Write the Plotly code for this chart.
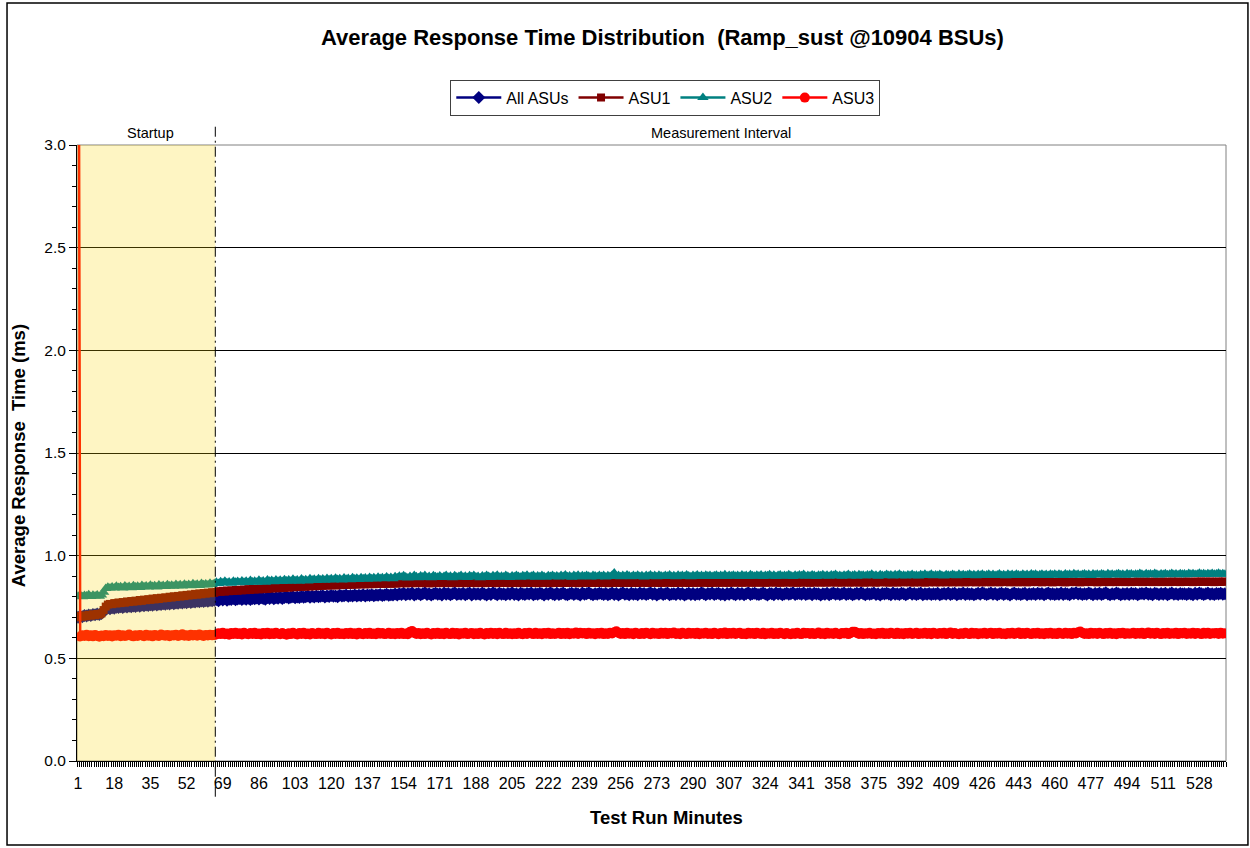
import plotly.graph_objects as go

# ---------------- data (ms per minute) ----------------
all_asus = [
    0.700, 0.705, 0.702, 0.708, 0.706, 0.711, 0.709, 0.714, 0.712, 0.716, 0.713, 0.718, 0.728, 0.738, 0.745, 0.742,
    0.746, 0.744, 0.749, 0.747, 0.751, 0.748, 0.752, 0.750, 0.754, 0.751,
    0.755, 0.753, 0.757, 0.754, 0.758, 0.756, 0.760, 0.757, 0.761, 0.759,
    0.763, 0.760, 0.764, 0.762, 0.766, 0.763, 0.767, 0.765, 0.769, 0.766,
    0.770, 0.768, 0.772, 0.769, 0.773, 0.771, 0.775, 0.772, 0.776, 0.774,
    0.778, 0.775, 0.779, 0.777, 0.781, 0.778, 0.782, 0.780, 0.783,
    0.786, 0.781, 0.789, 0.784, 0.790, 0.783, 0.788, 0.786, 0.791, 0.785,
    0.789, 0.792, 0.786, 0.791, 0.788, 0.793, 0.787, 0.792, 0.790, 0.794,
    0.789, 0.795, 0.791, 0.788, 0.796, 0.792, 0.797, 0.790, 0.795, 0.793,
    0.798, 0.792, 0.796, 0.799, 0.794, 0.797, 0.800, 0.795, 0.799, 0.796,
    0.801, 0.797, 0.800, 0.803, 0.798, 0.802, 0.799, 0.804, 0.800, 0.802,
    0.805, 0.799, 0.803, 0.801, 0.806, 0.802, 0.804, 0.800, 0.807, 0.803,
    0.805, 0.808, 0.802, 0.806, 0.804, 0.809, 0.803, 0.807, 0.805, 0.810,
    0.804, 0.808, 0.806, 0.810, 0.805, 0.809, 0.807, 0.811, 0.806, 0.809,
    0.812, 0.807, 0.810, 0.808, 0.813,
    0.809, 0.815, 0.811, 0.817, 0.810, 0.814, 0.812, 0.818, 0.809, 0.813,
    0.816, 0.810, 0.814, 0.819, 0.811, 0.815, 0.808, 0.813, 0.817, 0.812,
    0.815, 0.809, 0.818, 0.812, 0.816, 0.810, 0.814, 0.819, 0.811, 0.815,
    0.812, 0.817, 0.810, 0.814, 0.818, 0.809, 0.816, 0.812, 0.815, 0.811,
    0.818, 0.813, 0.809, 0.816, 0.811, 0.819, 0.814, 0.810, 0.817, 0.812,
    0.814, 0.810, 0.816, 0.812, 0.819, 0.811, 0.815, 0.809, 0.817, 0.813,
    0.811, 0.816, 0.813, 0.818, 0.810, 0.815, 0.812, 0.817, 0.814, 0.809,
    0.816, 0.812, 0.819, 0.813, 0.810, 0.817, 0.811, 0.815, 0.818, 0.812,
    0.810, 0.814, 0.817, 0.811, 0.816, 0.813, 0.809, 0.818, 0.812, 0.815,
    0.819, 0.813, 0.810, 0.815, 0.812, 0.817, 0.814, 0.811, 0.816, 0.810,
    0.813, 0.818, 0.811, 0.816, 0.809, 0.814, 0.819, 0.812, 0.815, 0.810,
    0.817, 0.812, 0.815, 0.810, 0.818, 0.813, 0.816, 0.811, 0.814, 0.819,
    0.812, 0.816, 0.809, 0.814, 0.817, 0.811, 0.815, 0.818, 0.810, 0.813,
    0.815, 0.811, 0.818, 0.812, 0.816, 0.809, 0.813, 0.817, 0.811, 0.816,
    0.810, 0.815, 0.812, 0.819, 0.814, 0.810, 0.816, 0.813, 0.818, 0.811,
    0.814, 0.817, 0.811, 0.815, 0.809, 0.816, 0.812, 0.818, 0.813, 0.810,
    0.817, 0.812, 0.816, 0.810, 0.815, 0.819, 0.811, 0.814, 0.817, 0.812,
    0.811, 0.815, 0.818, 0.813, 0.809, 0.816, 0.814, 0.810, 0.818, 0.813,
    0.816, 0.810, 0.813, 0.817, 0.812, 0.815, 0.819, 0.811, 0.814, 0.816,
    0.812, 0.818, 0.811, 0.814, 0.816, 0.810, 0.817, 0.813, 0.815, 0.809,
    0.815, 0.812, 0.817, 0.810, 0.814, 0.818, 0.812, 0.816, 0.811, 0.815,
    0.818, 0.811, 0.814, 0.816, 0.810, 0.813, 0.817, 0.812, 0.819, 0.814,
    0.810, 0.816, 0.812, 0.815, 0.818, 0.811, 0.814, 0.809, 0.816, 0.813,
    0.817, 0.813, 0.810, 0.818, 0.812, 0.815, 0.811, 0.817, 0.814, 0.810,
    0.814, 0.819, 0.812, 0.816, 0.811, 0.814, 0.818, 0.810, 0.815, 0.812,
    0.816, 0.811, 0.815, 0.812, 0.817, 0.810, 0.813, 0.816, 0.812, 0.818,
    0.811, 0.814, 0.817, 0.810, 0.815, 0.813, 0.818, 0.811, 0.816, 0.812,
    0.815, 0.810, 0.813, 0.817, 0.812, 0.819, 0.814, 0.811, 0.815, 0.818,
    0.812, 0.816, 0.810, 0.814, 0.817, 0.811, 0.816, 0.813, 0.809, 0.815,
    0.818, 0.812, 0.815, 0.811, 0.814, 0.817, 0.810, 0.815, 0.812, 0.816,
    0.811, 0.817, 0.813, 0.816, 0.810, 0.814, 0.818, 0.812, 0.815, 0.811,
    0.815, 0.812, 0.818, 0.811, 0.816, 0.813, 0.810, 0.817, 0.814, 0.819,
    0.813, 0.816, 0.811, 0.815, 0.812, 0.818, 0.814, 0.810, 0.816, 0.812,
    0.817, 0.811, 0.814, 0.819, 0.813, 0.810, 0.815, 0.812, 0.818, 0.814,
    0.810, 0.815, 0.812, 0.816, 0.811, 0.817, 0.813, 0.816, 0.810, 0.814,
    0.816, 0.813, 0.818, 0.812, 0.815, 0.810, 0.817, 0.814, 0.811, 0.816,
    0.812, 0.817, 0.810, 0.814, 0.818, 0.812, 0.815, 0.811, 0.816, 0.813,
    0.815, 0.811, 0.816, 0.813, 0.810, 0.817, 0.812, 0.818, 0.814, 0.811,
    0.814, 0.818, 0.812, 0.815, 0.811, 0.816, 0.813, 0.817, 0.812, 0.814,
]

asu1 = [
    0.700, 0.706, 0.703, 0.709, 0.705, 0.712, 0.708, 0.714, 0.710, 0.716, 0.713, 0.719, 0.735, 0.752, 0.762, 0.765,
    0.764, 0.769, 0.767, 0.772, 0.769, 0.774, 0.771, 0.777, 0.774, 0.779,
    0.776, 0.781, 0.778, 0.784, 0.780, 0.786, 0.783, 0.788, 0.785, 0.791,
    0.787, 0.793, 0.789, 0.795, 0.792, 0.797, 0.794, 0.800, 0.796, 0.802,
    0.799, 0.804, 0.801, 0.807, 0.803, 0.809, 0.806, 0.811, 0.808, 0.814,
    0.810, 0.816, 0.812, 0.818, 0.815, 0.820, 0.817, 0.822, 0.819,
    0.823, 0.827, 0.824, 0.829, 0.825, 0.830, 0.827, 0.831, 0.828, 0.833,
    0.829, 0.834, 0.831, 0.835, 0.832, 0.837, 0.833, 0.838, 0.835, 0.839,
    0.836, 0.840, 0.837, 0.842, 0.838, 0.843, 0.840, 0.844, 0.841, 0.845,
    0.842, 0.846, 0.843, 0.848, 0.844, 0.849, 0.846, 0.850, 0.847, 0.851,
    0.848, 0.852, 0.849, 0.853, 0.850, 0.854, 0.851, 0.855, 0.852, 0.856,
    0.853, 0.857, 0.854, 0.857, 0.855, 0.858, 0.855, 0.859, 0.856, 0.860,
    0.857, 0.860, 0.858, 0.861, 0.858, 0.862, 0.859, 0.862, 0.860, 0.863,
    0.860, 0.863, 0.861, 0.864, 0.861, 0.864, 0.862, 0.865, 0.862, 0.865,
    0.863, 0.866, 0.863, 0.866, 0.864,
    0.865, 0.867, 0.866, 0.868, 0.865, 0.867, 0.869, 0.866, 0.868, 0.866,
    0.867, 0.869, 0.866, 0.868, 0.867, 0.865, 0.868, 0.866, 0.869, 0.867,
    0.866, 0.868, 0.870, 0.867, 0.866, 0.869, 0.867, 0.868, 0.866, 0.868,
    0.869, 0.867, 0.866, 0.868, 0.870, 0.867, 0.869, 0.866, 0.868, 0.867,
    0.868, 0.866, 0.869, 0.867, 0.868, 0.870, 0.867, 0.866, 0.869, 0.868,
    0.867, 0.869, 0.868, 0.866, 0.868, 0.867, 0.870, 0.868, 0.866, 0.869,
    0.868, 0.867, 0.869, 0.870, 0.867, 0.868, 0.866, 0.869, 0.868, 0.867,
    0.869, 0.868, 0.866, 0.868, 0.870, 0.867, 0.869, 0.868, 0.867, 0.870,
    0.867, 0.869, 0.868, 0.870, 0.868, 0.866, 0.869, 0.867, 0.870, 0.868,
    0.868, 0.870, 0.867, 0.869, 0.868, 0.870, 0.867, 0.869, 0.868, 0.866,
    0.869, 0.867, 0.870, 0.868, 0.869, 0.867, 0.868, 0.870, 0.869, 0.867,
    0.868, 0.870, 0.869, 0.867, 0.869, 0.871, 0.868, 0.869, 0.867, 0.870,
    0.869, 0.868, 0.870, 0.868, 0.867, 0.869, 0.871, 0.868, 0.870, 0.869,
    0.867, 0.870, 0.868, 0.869, 0.871, 0.868, 0.869, 0.867, 0.870, 0.868,
    0.870, 0.868, 0.869, 0.871, 0.868, 0.870, 0.869, 0.867, 0.869, 0.871,
    0.868, 0.869, 0.871, 0.868, 0.870, 0.869, 0.868, 0.871, 0.869, 0.870,
    0.869, 0.871, 0.868, 0.870, 0.869, 0.871, 0.870, 0.868, 0.870, 0.869,
    0.871, 0.869, 0.870, 0.868, 0.871, 0.869, 0.870, 0.872, 0.869, 0.870,
    0.868, 0.870, 0.872, 0.869, 0.870, 0.871, 0.869, 0.870, 0.868, 0.871,
    0.870, 0.869, 0.871, 0.870, 0.868, 0.871, 0.869, 0.872, 0.870, 0.869,
    0.871, 0.870, 0.869, 0.871, 0.870, 0.872, 0.869, 0.870, 0.871, 0.869,
    0.870, 0.872, 0.870, 0.869, 0.871, 0.870, 0.872, 0.869, 0.871, 0.870,
    0.869, 0.871, 0.870, 0.872, 0.870, 0.869, 0.871, 0.870, 0.872, 0.871,
    0.870, 0.869, 0.872, 0.870, 0.871, 0.869, 0.872, 0.871, 0.870, 0.872,
    0.871, 0.870, 0.872, 0.869, 0.871, 0.872, 0.870, 0.871, 0.869, 0.872,
    0.870, 0.872, 0.871, 0.870, 0.872, 0.870, 0.871, 0.873, 0.870, 0.871,
    0.872, 0.870, 0.871, 0.873, 0.870, 0.872, 0.871, 0.870, 0.872, 0.871,
    0.871, 0.873, 0.870, 0.872, 0.871, 0.870, 0.873, 0.871, 0.872, 0.870,
    0.872, 0.871, 0.873, 0.870, 0.872, 0.871, 0.873, 0.872, 0.870, 0.872,
    0.871, 0.872, 0.870, 0.873, 0.871, 0.872, 0.870, 0.873, 0.871, 0.872,
    0.873, 0.871, 0.872, 0.870, 0.873, 0.872, 0.871, 0.873, 0.870, 0.872,
    0.871, 0.873, 0.872, 0.871, 0.870, 0.873, 0.871, 0.872, 0.874, 0.871,
    0.872, 0.870, 0.873, 0.871, 0.872, 0.874, 0.871, 0.873, 0.872, 0.870,
    0.873, 0.872, 0.871, 0.873, 0.874, 0.871, 0.872, 0.873, 0.871, 0.874,
    0.872, 0.873, 0.871, 0.874, 0.872, 0.871, 0.873, 0.872, 0.874, 0.873,
    0.871, 0.873, 0.874, 0.872, 0.873, 0.871, 0.874, 0.872, 0.873, 0.871,
    0.874, 0.872, 0.873, 0.871, 0.874, 0.873, 0.872, 0.874, 0.871, 0.873,
    0.872, 0.874, 0.873, 0.872, 0.871, 0.874, 0.873, 0.872, 0.874, 0.873,
    0.873, 0.872, 0.874, 0.873, 0.871, 0.873, 0.874, 0.872, 0.873, 0.874,
]

asu2 = [
    0.802, 0.808, 0.800, 0.806, 0.803, 0.810, 0.801, 0.807, 0.804, 0.809, 0.802, 0.808, 0.822, 0.840, 0.846, 0.843,
    0.848, 0.842, 0.851, 0.845, 0.849, 0.843, 0.852, 0.846, 0.850, 0.844,
    0.853, 0.847, 0.851, 0.845, 0.855, 0.849, 0.852, 0.847, 0.856, 0.850,
    0.854, 0.848, 0.857, 0.851, 0.855, 0.850, 0.858, 0.852, 0.856, 0.851,
    0.860, 0.854, 0.858, 0.852, 0.861, 0.855, 0.859, 0.854, 0.863, 0.857,
    0.861, 0.855, 0.864, 0.858, 0.862, 0.857, 0.866, 0.860, 0.864,
    0.870, 0.864, 0.873, 0.867, 0.875, 0.868, 0.872, 0.866, 0.876, 0.870,
    0.874, 0.868, 0.877, 0.871, 0.875, 0.869, 0.879, 0.872, 0.876, 0.870,
    0.880, 0.873, 0.877, 0.871, 0.881, 0.875, 0.879, 0.873, 0.882, 0.876,
    0.880, 0.874, 0.883, 0.877, 0.881, 0.875, 0.885, 0.878, 0.882, 0.876,
    0.886, 0.879, 0.883, 0.877, 0.887, 0.881, 0.885, 0.879, 0.888, 0.882,
    0.886, 0.880, 0.889, 0.883, 0.887, 0.881, 0.890, 0.884, 0.888, 0.882,
    0.891, 0.885, 0.889, 0.883, 0.892, 0.886, 0.890, 0.884, 0.893, 0.887,
    0.891, 0.885, 0.894, 0.888, 0.892, 0.886, 0.895, 0.889, 0.893, 0.887,
    0.896, 0.889, 0.894, 0.888, 0.897,
    0.893, 0.900, 0.895, 0.902, 0.896, 0.891, 0.899, 0.894, 0.903, 0.897,
    0.892, 0.901, 0.896, 0.903, 0.894, 0.899, 0.893, 0.902, 0.897, 0.895,
    0.901, 0.894, 0.898, 0.904, 0.895, 0.900, 0.893, 0.902, 0.896, 0.899,
    0.903, 0.895, 0.900, 0.894, 0.902, 0.897, 0.904, 0.896, 0.899, 0.893,
    0.901, 0.896, 0.903, 0.898, 0.894, 0.902, 0.897, 0.905, 0.895, 0.900,
    0.896, 0.903, 0.899, 0.894, 0.901, 0.897, 0.904, 0.898, 0.895, 0.902,
    0.898, 0.905, 0.896, 0.900, 0.903, 0.895, 0.901, 0.897, 0.904, 0.899,
    0.895, 0.902, 0.898, 0.904, 0.897, 0.901, 0.896, 0.903, 0.899, 0.906,
    0.897, 0.901, 0.895, 0.903, 0.899, 0.905, 0.896, 0.902, 0.898, 0.904,
    0.900, 0.896, 0.904, 0.901, 0.897, 0.904, 0.899, 0.903, 0.896, 0.902,
    0.898, 0.905, 0.915, 0.900, 0.903, 0.897, 0.904, 0.899, 0.906, 0.901,
    0.897, 0.903, 0.899, 0.905, 0.898, 0.902, 0.896, 0.904, 0.900, 0.906,
    0.899, 0.903, 0.897, 0.905, 0.901, 0.898, 0.904, 0.900, 0.906, 0.899,
    0.902, 0.897, 0.905, 0.900, 0.903, 0.898, 0.906, 0.901, 0.897, 0.904,
    0.900, 0.906, 0.899, 0.903, 0.898, 0.905, 0.901, 0.904, 0.899, 0.902,
    0.905, 0.899, 0.903, 0.900, 0.907, 0.898, 0.904, 0.901, 0.905, 0.900,
    0.903, 0.898, 0.906, 0.901, 0.904, 0.899, 0.907, 0.902, 0.900, 0.905,
    0.901, 0.906, 0.899, 0.904, 0.902, 0.907, 0.900, 0.905, 0.898, 0.903,
    0.906, 0.900, 0.904, 0.901, 0.907, 0.902, 0.899, 0.905, 0.901, 0.906,
    0.902, 0.908, 0.900, 0.904, 0.901, 0.906, 0.903, 0.899, 0.905, 0.902,
    0.907, 0.901, 0.905, 0.900, 0.906, 0.903, 0.908, 0.901, 0.904, 0.900,
    0.905, 0.902, 0.908, 0.901, 0.904, 0.906, 0.900, 0.907, 0.903, 0.905,
    0.901, 0.906, 0.903, 0.909, 0.902, 0.905, 0.900, 0.907, 0.904, 0.902,
    0.908, 0.903, 0.906, 0.901, 0.907, 0.904, 0.909, 0.902, 0.905, 0.901,
    0.906, 0.903, 0.908, 0.902, 0.905, 0.901, 0.907, 0.904, 0.909, 0.903,
    0.905, 0.909, 0.902, 0.906, 0.903, 0.908, 0.904, 0.901, 0.907, 0.905,
    0.903, 0.908, 0.905, 0.902, 0.909, 0.904, 0.907, 0.903, 0.906, 0.910,
    0.904, 0.907, 0.902, 0.908, 0.905, 0.910, 0.903, 0.906, 0.909, 0.904,
    0.908, 0.903, 0.906, 0.911, 0.904, 0.907, 0.902, 0.909, 0.905, 0.908,
    0.904, 0.909, 0.906, 0.903, 0.910, 0.905, 0.908, 0.904, 0.911, 0.906,
    0.909, 0.904, 0.907, 0.910, 0.905, 0.908, 0.903, 0.910, 0.906, 0.909,
    0.905, 0.910, 0.907, 0.904, 0.911, 0.906, 0.909, 0.905, 0.912, 0.907,
    0.910, 0.905, 0.908, 0.911, 0.906, 0.909, 0.904, 0.911, 0.907, 0.910,
    0.906, 0.911, 0.908, 0.905, 0.912, 0.907, 0.910, 0.906, 0.909, 0.912,
    0.907, 0.910, 0.905, 0.912, 0.908, 0.911, 0.906, 0.910, 0.908, 0.913,
    0.909, 0.906, 0.912, 0.908, 0.911, 0.907, 0.913, 0.909, 0.906, 0.911,
    0.908, 0.912, 0.907, 0.910, 0.913, 0.908, 0.911, 0.907, 0.912, 0.909,
    0.911, 0.907, 0.913, 0.909, 0.912, 0.908, 0.910, 0.914, 0.909, 0.912,
    0.908, 0.912, 0.910, 0.913, 0.909, 0.911, 0.914, 0.910, 0.912, 0.909,
]

asu3 = [
    5.200,
    0.606, 0.613, 0.609, 0.615, 0.608, 0.612, 0.607, 0.614, 0.610, 0.605,
    0.611, 0.608, 0.614, 0.609, 0.613, 0.606, 0.612, 0.610, 0.615, 0.608,
    0.613, 0.609, 0.611, 0.616, 0.610, 0.607, 0.613, 0.609, 0.614, 0.611,
    0.608, 0.615, 0.610, 0.612, 0.607, 0.614, 0.611, 0.609, 0.616, 0.612,
    0.610, 0.614, 0.608, 0.613, 0.611, 0.615, 0.609, 0.612, 0.617, 0.610,
    0.613, 0.609, 0.615, 0.611, 0.614, 0.610, 0.616, 0.612, 0.609, 0.614,
    0.611, 0.615, 0.612, 0.614,
    0.616, 0.622, 0.618, 0.624, 0.617, 0.621, 0.615, 0.623, 0.619, 0.625,
    0.618, 0.622, 0.616, 0.624, 0.620, 0.617, 0.623, 0.619, 0.625, 0.618,
    0.621, 0.616, 0.623, 0.619, 0.624, 0.617, 0.622, 0.618, 0.625, 0.620,
    0.617, 0.623, 0.619, 0.615, 0.622, 0.618, 0.624, 0.620, 0.616, 0.623,
    0.619, 0.625, 0.617, 0.621, 0.616, 0.623, 0.620, 0.618, 0.624, 0.619,
    0.622, 0.617, 0.624, 0.620, 0.616, 0.623, 0.619, 0.625, 0.618, 0.621,
    0.617, 0.623, 0.619, 0.624, 0.618, 0.622, 0.616, 0.624, 0.620, 0.617,
    0.623, 0.619, 0.625, 0.618, 0.621, 0.617, 0.624, 0.620, 0.623, 0.618,
    0.620, 0.624, 0.618, 0.622, 0.617, 0.623, 0.619, 0.624, 0.618, 0.621,
    0.617, 0.629, 0.633, 0.624, 0.619, 0.623, 0.617, 0.622, 0.618, 0.624,
    0.620, 0.616, 0.623, 0.619, 0.625, 0.618, 0.622, 0.617, 0.624, 0.620,
    0.618, 0.624, 0.619, 0.623, 0.616, 0.622, 0.620, 0.625, 0.618, 0.621,
    0.623, 0.617, 0.622, 0.618, 0.625, 0.620, 0.616, 0.623, 0.619, 0.624,
    0.619, 0.623, 0.617, 0.624, 0.620, 0.618, 0.625, 0.619, 0.622, 0.617,
    0.622, 0.618, 0.624, 0.620, 0.617, 0.623, 0.619, 0.625, 0.621, 0.618,
    0.624, 0.619, 0.622, 0.617, 0.623, 0.620, 0.625, 0.618, 0.622, 0.619,
    0.621, 0.625, 0.618, 0.623, 0.619, 0.624, 0.617, 0.622, 0.620, 0.626,
    0.619, 0.624, 0.621, 0.623, 0.618, 0.624, 0.620, 0.622, 0.617, 0.623,
    0.620, 0.625, 0.618, 0.622, 0.619, 0.624, 0.621, 0.627, 0.632, 0.624,
    0.619, 0.623, 0.618, 0.625, 0.620, 0.622, 0.617, 0.624, 0.621, 0.618,
    0.623, 0.619, 0.625, 0.621, 0.617, 0.624, 0.620, 0.622, 0.618, 0.625,
    0.620, 0.624, 0.618, 0.623, 0.621, 0.626, 0.619, 0.622, 0.617, 0.624,
    0.621, 0.618, 0.625, 0.620, 0.623, 0.619, 0.624, 0.617, 0.622, 0.620,
    0.625, 0.619, 0.622, 0.618, 0.624, 0.621, 0.617, 0.623, 0.620, 0.626,
    0.618, 0.623, 0.620, 0.624, 0.619, 0.622, 0.625, 0.618, 0.621, 0.617,
    0.624, 0.620, 0.623, 0.618, 0.625, 0.621, 0.619, 0.624, 0.617, 0.622,
    0.620, 0.625, 0.618, 0.622, 0.619, 0.624, 0.621, 0.617, 0.623, 0.620,
    0.617, 0.622, 0.619, 0.624, 0.620, 0.618, 0.625, 0.621, 0.623, 0.619,
    0.623, 0.618, 0.621, 0.626, 0.619, 0.622, 0.617, 0.624, 0.620, 0.622,
    0.619, 0.624, 0.620, 0.617, 0.623, 0.621, 0.625, 0.618, 0.622, 0.629,
    0.630, 0.624, 0.619, 0.623, 0.618, 0.622, 0.620, 0.625, 0.619, 0.621,
    0.617, 0.623, 0.620, 0.624, 0.618, 0.622, 0.619, 0.625, 0.621, 0.618,
    0.624, 0.619, 0.622, 0.617, 0.623, 0.620, 0.625, 0.619, 0.621, 0.624,
    0.618, 0.622, 0.620, 0.625, 0.619, 0.623, 0.617, 0.624, 0.621, 0.619,
    0.623, 0.620, 0.624, 0.618, 0.622, 0.626, 0.619, 0.623, 0.620, 0.617,
    0.622, 0.619, 0.625, 0.621, 0.618, 0.624, 0.620, 0.623, 0.617, 0.622,
    0.620, 0.624, 0.619, 0.622, 0.625, 0.618, 0.623, 0.620, 0.624, 0.619,
    0.621, 0.617, 0.623, 0.620, 0.624, 0.619, 0.622, 0.626, 0.618, 0.623,
    0.619, 0.624, 0.621, 0.618, 0.623, 0.620, 0.625, 0.619, 0.622, 0.617,
    0.623, 0.620, 0.624, 0.619, 0.622, 0.618, 0.625, 0.621, 0.619, 0.624,
    0.620, 0.623, 0.618, 0.624, 0.621, 0.627, 0.631, 0.624, 0.619, 0.622,
    0.618, 0.624, 0.620, 0.623, 0.619, 0.625, 0.621, 0.618, 0.623, 0.620,
    0.624, 0.619, 0.622, 0.617, 0.623, 0.621, 0.625, 0.619, 0.622, 0.620,
    0.621, 0.625, 0.619, 0.623, 0.620, 0.624, 0.618, 0.622, 0.626, 0.620,
    0.623, 0.619, 0.624, 0.621, 0.618, 0.623, 0.620, 0.625, 0.619, 0.622,
    0.620, 0.624, 0.618, 0.623, 0.621, 0.625, 0.619, 0.622, 0.620, 0.624,
    0.619, 0.623, 0.621, 0.618, 0.624, 0.620, 0.625, 0.619, 0.622, 0.621,
    0.623, 0.619, 0.624, 0.620, 0.622,
]

series_names = ["All ASUs", "ASU1", "ASU2", "ASU3"]
series_colors = ["#000080", "#800000", "#008080", "#FF0000"]
series_symbols = ["diamond", "square", "triangle-up", "circle"]
series_sizes = [10, 8, 10, 10]

startup_end = 65.5          # boundary between Startup and Measurement Interval (minutes)
n_minutes = 540
tick_minutes = list(range(1, 529, 17))
tick_labels = [str(t) for t in tick_minutes]

FONT = "Liberation Sans, Arial, sans-serif"

fig = go.Figure()
for name, vals, col, sym, sz in zip(series_names, [all_asus, asu1, asu2, asu3],
                                    series_colors, series_symbols, series_sizes):
    fig.add_trace(go.Scatter(
        x=list(range(1, len(vals) + 1)), y=vals, name=name, mode="lines+markers",
        line=dict(color=col, width=2.5),
        marker=dict(symbol=sym, size=sz, color=col),
    ))

fig.update_layout(
    width=1250, height=848,
    margin=dict(l=77, r=24, t=145, b=87),
    paper_bgcolor="white", plot_bgcolor="white",
    font=dict(family=FONT, color="black"),
    title=dict(text="<b>Average Response Time Distribution  (Ramp_sust @10904 BSUs)</b>",
               x=0.53, xanchor="center", y=1 - 37 / 848, yanchor="middle",
               yref="container", font=dict(size=22, family=FONT, color="black")),
    showlegend=True,
    legend=dict(orientation="h", x=0.512, xanchor="center", y=1.106, yanchor="top",
                bordercolor="#404040", borderwidth=1, bgcolor="white",
                font=dict(size=16, family=FONT), itemwidth=45, tracegroupgap=0),
)

fig.update_xaxes(
    range=[0.5, n_minutes + 0.5], tickmode="array", tickvals=tick_minutes, ticktext=tick_labels,
    ticks="", ticklabelstandoff=8, tickfont=dict(size=16, family=FONT),
    showline=True, linecolor="black", linewidth=1, showgrid=False, zeroline=False,
    minor=dict(tick0=0.5, dtick=1, ticks="outside", ticklen=5, tickcolor="black", showgrid=False),
)
fig.update_yaxes(
    range=[0, 3.0], dtick=0.5, tick0=0, tickformat=".1f",
    ticks="outside", ticklen=7, tickcolor="black", tickfont=dict(size=15.5, family=FONT),
    showline=True, linecolor="black", linewidth=1,
    showgrid=True, gridcolor="black", gridwidth=1, zeroline=False,
    minor=dict(dtick=0.1, ticks="outside", ticklen=4, tickcolor="black", showgrid=False),
)

# plot-area border (gray)
fig.add_shape(type="rect", xref="paper", yref="paper", x0=0, x1=1, y0=0, y1=1,
              line=dict(color="#808080", width=1), layer="below")
# Startup shading (drawn over the series, translucent)
fig.add_shape(type="rect", xref="x", yref="y", x0=0.5, x1=startup_end, y0=0, y1=3.0,
              fillcolor="rgba(251,213,0,0.235)", line=dict(width=0), layer="above")
# Startup / Measurement boundary
fig.add_shape(type="line", xref="x", yref="paper", x0=startup_end, x1=startup_end,
              y0=-0.058, y1=1.03, line=dict(color="black", width=1, dash="10px,4px,2px,4px"))
# outer chart frame
fig.add_shape(type="rect", xref="paper", yref="paper", x0=-0.0609, x1=1.0191, y0=-0.1364, y1=1.2305,
              line=dict(color="black", width=1.5), layer="below")

fig.add_annotation(text="Startup", x=35, xref="x", y=1.0195, yref="paper",
                   showarrow=False, font=dict(size=14.5, family=FONT), yanchor="middle")
fig.add_annotation(text="Measurement Interval", x=303, xref="x", y=1.0195, yref="paper",
                   showarrow=False, font=dict(size=14.5, family=FONT), yanchor="middle")
fig.add_annotation(text="<b>Test Run Minutes</b>", x=0.513, xref="paper", y=-0.0925, yref="paper",
                   showarrow=False, font=dict(size=18.5, family=FONT), yanchor="middle")
fig.add_annotation(text="<b>Average Response  Time (ms)</b>", x=-0.0513, xref="paper", y=0.495, yref="paper",
                   showarrow=False, textangle=-90, font=dict(size=18.5, family=FONT),
                   xanchor="center", yanchor="middle")

fig.write_html("out.html", config={"displayModeBar": False},
               post_script="document.body.style.margin='0px';")
